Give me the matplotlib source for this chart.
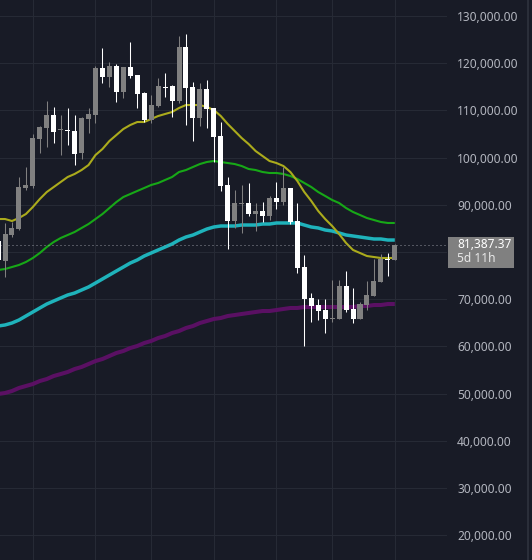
import matplotlib
matplotlib.use("Agg")
import matplotlib.pyplot as plt
from matplotlib.patches import Rectangle
from matplotlib.transforms import blended_transform_factory
import numpy as np

plt.rcParams["font.family"] = ["Noto Sans", "DejaVu Sans"]

# weekly candles, oldest first (first one is cut by the left edge)
opens = [82330, 78100, 83600, 84870, 93560, 93980, 103940, 106270, 109030, 105850,
         105850, 105640, 100980, 108180, 109030, 118980, 117080, 119410, 113900, 119200,
         117500, 113690, 107970, 110930, 114960, 115170, 111990, 123430, 114960, 108390,
         114530, 110510, 104580, 94200, 86570, 90170, 90380, 88050, 88690, 87630,
         91440, 90590, 93560, 86570, 76820, 70260, 68770, 67710, 65810, 65810,
         72800, 67930, 65810, 68770, 70680, 73650, 78520, 78310]
highs = [83390, 86150, 86360, 95890, 98010, 105000, 106700, 111990, 110720, 109030,
         110510, 109030, 108600, 110510, 119410, 123220, 120250, 119830, 119200, 124490,
         117500, 113900, 113260, 116870, 117920, 115380, 125760, 126190, 116020, 115810,
         116440, 110510, 107540, 95890, 93140, 94200, 94620, 90380, 90590, 91870,
         94830, 98010, 93560, 90380, 79370, 71310, 70040, 70040, 74070, 74070,
         75980, 72370, 69410, 73860, 78520, 79580, 79790, 81700]
lows = [77670, 74710, 83180, 84660, 93140, 93560, 100980, 102250, 103090, 100550,
        102670, 98430, 99700, 105210, 107330, 115810, 114960, 111780, 112630, 116870,
        110510, 107540, 107330, 110720, 112840, 108600, 111570, 106910, 103520, 106700,
        106270, 99070, 92930, 80640, 85090, 84030, 87630, 84450, 86360, 86780,
        89110, 89960, 85930, 75550, 60090, 65170, 65590, 62840, 65170, 65810,
        67290, 64960, 65810, 67710, 70680, 73650, 74920, 78310]
closes = [78310, 83810, 85090, 93770, 94200, 104150, 106480, 109030, 105420, 106060,
          105640, 100760, 108390, 109240, 118980, 117080, 119410, 113900, 119200, 117290,
          113480, 107970, 111140, 115170, 114750, 111990, 123430, 114750, 108390, 114530,
          110300, 104370, 93980, 86570, 90380, 90380, 88050, 88690, 87630, 91440,
          90590, 93560, 86360, 76610, 70040, 68560, 67500, 65810, 66020, 72800,
          67710, 65810, 68980, 70890, 73860, 78520, 78310, 81387.37]

# moving averages
ma_yellow = [86990, 86990, 86570, 87200, 88050, 89540, 91230, 92710, 93770, 94830,
             95890, 96530, 97370, 98430, 100550, 101820, 103520, 104790, 106060, 106910,
             107540, 107540, 108180, 108810, 109240, 109660, 110510, 111140, 111140, 111140,
             110720, 110090, 108810, 107120, 105640, 104150, 102880, 101400, 100340, 99280,
             98850, 98220, 96950, 95040, 92710, 90810, 88690, 86990, 85510, 83810,
             81910, 80430, 79790, 79150, 78940, 78730, 78730, 78730]
ma_green = [76190, 76400, 76820, 77250, 77880, 78730, 79790, 81060, 82120, 82970,
            83600, 84240, 85090, 85930, 86990, 88050, 89320, 90590, 91650, 92290,
            92930, 93560, 94200, 94620, 95260, 95890, 96950, 97370, 98010, 98640,
            99070, 99280, 99070, 98850, 98640, 98220, 97590, 97370, 96950, 96740,
            96740, 96530, 96100, 95470, 94620, 93770, 92710, 91870, 91020, 90380,
            89320, 88480, 87840, 87200, 86780, 86360, 86150, 86150]
ma_cyan = [64320, 64540, 64960, 65590, 66440, 67290, 68140, 68980, 69620, 70260,
           70890, 71310, 71950, 72590, 73430, 74280, 75130, 75980, 76820, 77670,
           78310, 79150, 79790, 80430, 81060, 81700, 82540, 83180, 83600, 84240,
           84870, 85300, 85510, 85510, 85510, 85720, 85720, 85720, 85930, 85930,
           86150, 86150, 86150, 86150, 85720, 85300, 85090, 84660, 84450, 84030,
           83600, 83390, 83180, 82970, 82760, 82760, 82540, 82540]
ma_purple = [49920, 50130, 50550, 51190, 51610, 52030, 52670, 53090, 53730, 54150,
             54580, 55210, 55640, 56270, 56900, 57330, 57970, 58610, 59030, 59660,
             60090, 60720, 61150, 61780, 62200, 62840, 63260, 63900, 64320, 64960,
             65380, 65810, 66020, 66440, 66650, 66870, 67080, 67290, 67500, 67500,
             67710, 67930, 68140, 68140, 68350, 68350, 68350, 68350, 68350, 68350,
             68350, 68350, 68560, 68560, 68770, 68770, 68980, 68980]

price_ticks = list(range(20000, 130001, 10000))
hidden_tick = 80000  # covered by the last-price label
grid_weeks = [4, 13, 21, 30, 39, 47, 56]
last_price = 81387.37
countdown = "5d 11h"

bg = "#181b26"
W, H = 532, 560
plot_w = 447

fig = plt.figure(figsize=(W / 100, H / 100), dpi=100, facecolor=bg)
ax = fig.add_axes([0, 0, plot_w / W, 1])
ax.set_facecolor(bg)

x = np.arange(-1, len(opens) - 1)
xlim = (-0.72, 63.5)
ylim = (14750, 133390)
ax.set_xlim(*xlim)
ax.set_ylim(*ylim)
ppx = (ylim[1] - ylim[0]) / H

# grid
ax.set_yticks(price_ticks)
ax.set_xticks(grid_weeks)
ax.grid(color="#262a35", lw=0.8, zorder=0)
ax.set_axisbelow(True)
for s in ax.spines.values():
    s.set_visible(False)
ax.tick_params(axis="x", length=0, labelbottom=False)
ax.yaxis.tick_right()
ax.tick_params(axis="y", length=0, pad=7.2, labelsize=8.6, labelcolor="#b2b5be")
ax.yaxis.set_major_formatter(matplotlib.ticker.FuncFormatter(
    lambda v, p: "" if abs(v - hidden_tick) < 1 else f"{v:,.2f}"))

# moving averages
ax.plot(x, ma_purple, color="#5a1063", lw=2.9, zorder=2, solid_capstyle="butt")
ax.plot(x, ma_cyan, color="#1fb3bb", lw=2.5, zorder=2, solid_capstyle="butt")
ax.plot(x, ma_green, color="#17a817", lw=1.5, zorder=2, solid_capstyle="butt")
ax.plot(x, ma_yellow, color="#abab1c", lw=1.5, zorder=2, solid_capstyle="butt")

# current price dotted line
ax.axhline(last_price, color="#8f929b", lw=0.72, ls=(0, (1, 3)), zorder=2.5)

# candles
o = np.array(opens)
c = np.array(closes)
up = c >= o
colors = np.where(up, "#808080", "#ffffff")
bottom = np.minimum(o, c)
height = np.maximum(np.abs(c - o), 1.3 * ppx)
ax.vlines(x, lows, highs, colors=colors, lw=0.75, zorder=3)
ax.bar(x, height, bottom=bottom, width=0.72, color=colors, linewidth=0, zorder=4)

# price label box on the axis
tr = blended_transform_factory(ax.transAxes, ax.transData)
ax.add_patch(Rectangle((1 + 1 / plot_w, last_price - 22.5 * ppx), 66 / plot_w, 31 * ppx,
                       transform=tr, facecolor="#808080", edgecolor="none", clip_on=False, zorder=5))
ax.text(1 + 10 / plot_w, last_price + 0.8 * ppx, f"{last_price:,.2f}", transform=tr,
        ha="left", va="center", color="#ffffff", fontsize=8.6, clip_on=False, zorder=6)
ax.text(1 + 10 / plot_w, last_price - 13 * ppx, countdown, transform=tr,
        ha="left", va="center", color="#e8e8e8", fontsize=8.6, clip_on=False, zorder=6)

# thin separator at the far right
fig.patches.append(Rectangle((527 / W, 0), 2 / W, 1, transform=fig.transFigure,
                             facecolor="#2a2e39", edgecolor="none"))

fig.savefig("out.png", dpi=100, facecolor=bg)
